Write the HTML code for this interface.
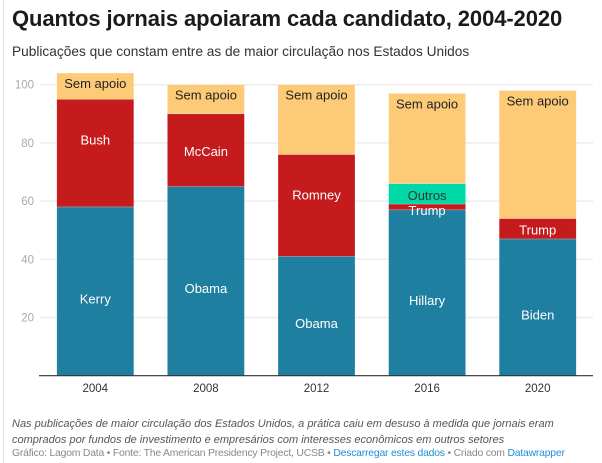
<!DOCTYPE html>
<html><head><meta charset="utf-8">
<style>
body{margin:0;background:#fff;width:602px;height:463px;overflow:hidden;font-family:"Liberation Sans",sans-serif;position:relative}
#frame{position:absolute;left:3px;top:0;width:1px;height:463px;background:#e4e4e4}
#title{position:absolute;left:12px;top:6px;font-size:22px;font-weight:bold;color:#1a1a1a;letter-spacing:-0.1px}
#sub{position:absolute;left:12px;top:44px;font-size:13.7px;color:#333}
#note{position:absolute;left:12px;top:416px;font-size:11px;font-style:italic;color:#555;line-height:16px;width:590px}
#src{position:absolute;left:12px;top:448px;font-size:10.4px;color:#888;letter-spacing:-0.2px}
#src a{color:#1d8fd6;text-decoration:none}
svg{position:absolute;left:0;top:0}
</style></head><body>
<div id="frame"></div>
<div id="title">Quantos jornais apoiaram cada candidato, 2004-2020</div>
<div id="sub">Publicações que constam entre as de maior circulação nos Estados Unidos</div>
<svg id="chart" width="602" height="463"></svg>
<div id="note">Nas publicações de maior circulação dos Estados Unidos, a prática caiu em desuso à medida que jornais eram comprados por fundos de investimento e empresários com interesses econômicos em outros setores</div>
<div id="src">Gráfico: Lagom Data • Fonte: The American Presidency Project, UCSB • <a>Descarregar estes dados</a> • Criado com <a>Datawrapper</a></div>
<script>
const categories=["2004","2008","2012","2016","2020"];
const dem=[58,65,41,57,47];
const demNames=["Kerry","Obama","Obama","Hillary","Biden"];
const rep=[37,25,35,2,7];
const repNames=["Bush","McCain","Romney","Trump","Trump"];
const outros=[0,0,0,7,0];
const semApoio=[9,10,24,31,44];
const yTicks=[20,40,60,80,100];

const svg=document.getElementById('chart');
const NS='http://www.w3.org/2000/svg';
const x0=40,x1=593,yBase=375.7,yTop=84.7;
const y=v=>yBase-(yBase-yTop)*v/100;
const band=(x1-x0)/categories.length;
const bw=77;
const xc=i=>x0+band*(i+0.5);
function el(t,a){const e=document.createElementNS(NS,t);for(const k in a)e.setAttribute(k,a[k]);svg.appendChild(e);return e;}
yTicks.forEach(t=>{
  const g=el('line',{x1:x0,x2:x1,y1:y(t),y2:y(t),stroke:'#ececec','stroke-width':1.5});
  
  
  const l=el('text',{x:34,y:y(t)+4,'text-anchor':'end','font-size':11.5,fill:'#aaa','font-family':'Liberation Sans'});
  l.textContent=t;
  
  
});
const series=[
 {vals:dem,names:demNames,color:'#1f7fa0',txt:'#fff',key:'dem'},
 {vals:rep,names:repNames,color:'#c51b1d',txt:'#fff',key:'rep'},
 {vals:outros,names:categories.map(()=>'Outros'),color:'#00d8a8',txt:'#333',key:'outros'},
 {vals:semApoio,names:categories.map(()=>'Sem apoio'),color:'#fdca77',txt:'#222',key:'sem-apoio'}
];
categories.forEach((c,i)=>{
  let acc=0;
  series.forEach(s=>{
    const v=s.vals[i];if(!v){return;}
    const top=y(acc+v),bot=y(acc);
    const r=el('rect',{x:xc(i)-bw/2,y:top,width:bw,height:bot-top,fill:s.color,stroke:'#fff','stroke-opacity':0.4,'stroke-width':0.5});
    
    
    let ly;
    if(s.key==='sem-apoio') ly=top+15;
    else if(s.key==='dem') ly=(top+bot)/2+12;
    else if(s.key==='rep'&&v<5) ly=bot+5;
    else if(s.key==='rep'&&v>=30) ly=top+Math.min((bot-top)*0.66,40)+5;
    else ly=(top+bot)/2+6;
    const t=el('text',{x:xc(i),y:ly,'text-anchor':'middle','font-size':13,fill:s.txt,'font-family':'Liberation Sans'});
    t.textContent=s.names[i];
    
    
    acc+=v;
  });
  const xl=el('text',{x:xc(i),y:392,'text-anchor':'middle','font-size':11.5,fill:'#333','font-family':'Liberation Sans'});
  xl.textContent=c;
  
  
});
const ax=el('line',{x1:x0-1,x2:x1,y1:yBase,y2:yBase,stroke:'#333','stroke-width':1.2});


</script>
</body></html>
